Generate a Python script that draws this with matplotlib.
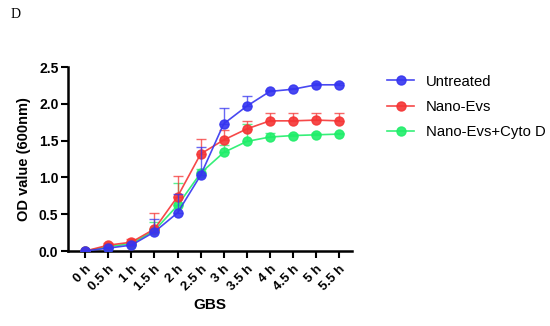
import matplotlib
matplotlib.use("Agg")
import matplotlib.pyplot as plt
import numpy as np

times = ["0 h", "0.5 h", "1 h", "1.5 h", "2 h", "2.5 h", "3 h", "3.5 h", "4 h", "4.5 h", "5 h", "5.5 h"]
untreated = [0.0, 0.04, 0.08, 0.26, 0.52, 1.03, 1.73, 1.97, 2.17, 2.20, 2.26, 2.26]
untreated_err = [0.0, 0.01, 0.01, 0.17, 0.25, 0.38, 0.21, 0.14, 0.02, 0.02, 0.02, 0.02]
nano = [0.0, 0.08, 0.12, 0.30, 0.74, 1.32, 1.51, 1.66, 1.77, 1.77, 1.78, 1.77]
nano_err = [0.0, 0.03, 0.04, 0.22, 0.28, 0.20, 0.14, 0.11, 0.10, 0.10, 0.10, 0.10]
cyto = [0.0, 0.06, 0.10, 0.28, 0.62, 1.06, 1.34, 1.49, 1.55, 1.57, 1.58, 1.59]
cyto_err = [0.0, 0.02, 0.02, 0.12, 0.30, 0.06, 0.10, 0.24, 0.05, 0.02, 0.02, 0.02]

names = ["Untreated", "Nano-Evs", "Nano-Evs+Cyto D"]
colors = ["#3535F0", "#F53535", "#20EE6A"]

plt.rcParams['font.family'] = ['Liberation Sans', 'DejaVu Sans']

fig = plt.figure(figsize=(5.5, 3.26), dpi=100)
ax = fig.add_axes([0.124, 0.23, 0.516, 0.564])

x = np.arange(len(times))
series = [(untreated, untreated_err), (nano, nano_err), (cyto, cyto_err)]
order = [2, 1, 0]
handles = {}
for i in order:
    vals, err = series[i]
    c = colors[i]
    ax.errorbar(x, vals, yerr=[np.zeros(len(err)), err], fmt='none', ecolor=c,
                elinewidth=1.0, capsize=3.5, capthick=1.0, alpha=0.75, zorder=2 + (2 - i))
    h, = ax.plot(x, vals, color=c, lw=1.2, marker='o', markersize=6.5, alpha=0.9,
                 zorder=3 + (2 - i), label=names[i])
    handles[i] = h

ax.set_xlim(-0.74, 11.56)
ax.set_ylim(0, 2.5)
ax.set_yticks([0, 0.5, 1.0, 1.5, 2.0, 2.5])
ax.set_yticklabels(["0.0", "0.5", "1.0", "1.5", "2.0", "2.5"], fontweight='bold', fontsize=10)
ax.set_xticks(x)
ax.set_xticklabels(times, rotation=45, ha='right', rotation_mode='anchor', fontweight='bold', fontsize=9.5)
ax.set_ylabel("OD value (600nm)", fontweight='bold', fontsize=10.5, labelpad=6)
ax.set_xlabel("GBS", fontweight='bold', fontsize=11)
for s in ['top', 'right']:
    ax.spines[s].set_visible(False)
for s in ['left', 'bottom']:
    ax.spines[s].set_linewidth(1.8)
ax.tick_params(width=1.5, length=5)
ax.tick_params(axis='y', pad=2)

leg = fig.legend([handles[0], handles[1], handles[2]], names, loc='upper left',
                 bbox_to_anchor=(0.68, 0.812), frameon=False, fontsize=10.7,
                 handlelength=1.8, labelspacing=0.75)

fig.text(0.02, 0.955, "D", family='Liberation Serif', fontsize=10, va='center')

fig.savefig("out.png", dpi=100)
